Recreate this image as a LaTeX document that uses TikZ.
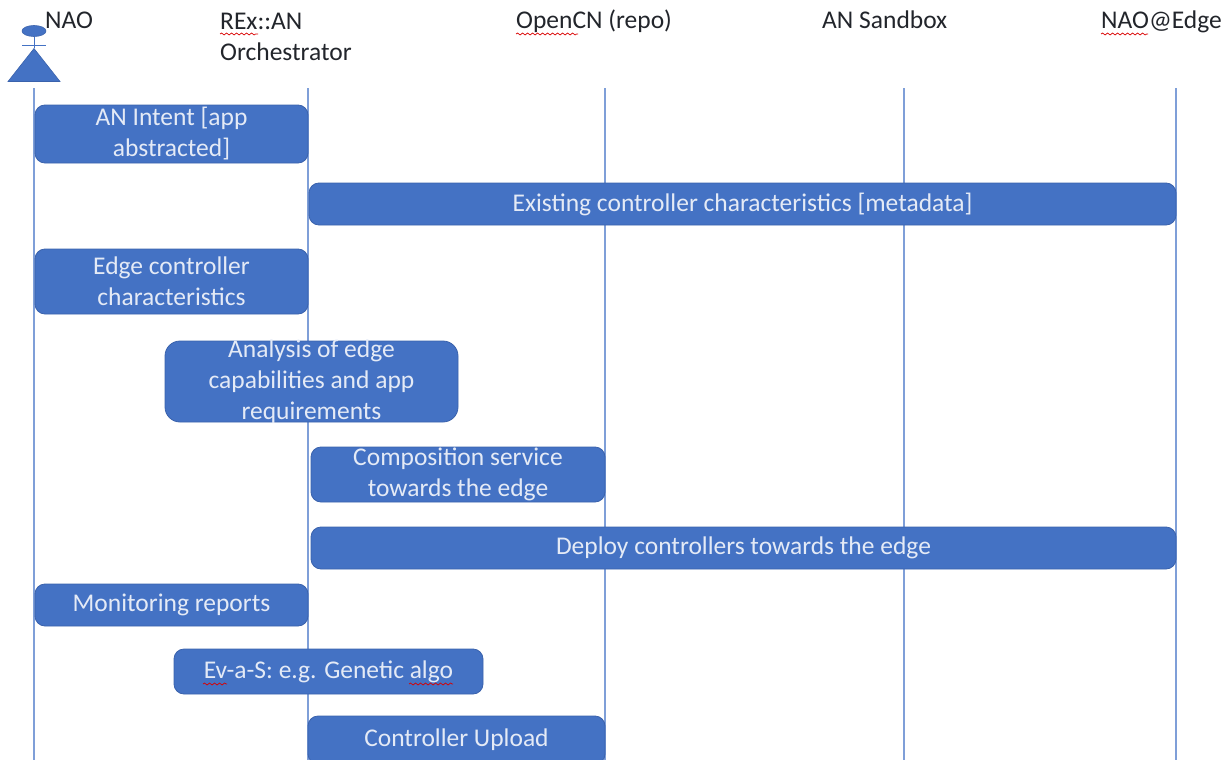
\documentclass[tikz,border=0pt]{standalone}
\usepackage{fontspec}
\setmainfont{Carlito}
\usetikzlibrary{shapes.geometric,decorations.pathmorphing}
\definecolor{barfill}{HTML}{4472C4}
\definecolor{barline}{HTML}{3A62AC}
\definecolor{lifecol}{HTML}{7F9FD8}
\definecolor{txtcol}{HTML}{22252B}
\definecolor{bartxt}{HTML}{E4EAF6}
\tikzset{
  x=1pt,y=-1pt,
  lifeline/.style={draw=lifecol,line width=1.5pt},
  bar/.style={draw=barline,line width=0.8pt,fill=barfill,rounded corners=10pt,text=bartxt,
    align=center,inner sep=0pt,font=\fontsize{25.5}{31}\selectfont},
  head/.style={text=txtcol,anchor=base west,inner sep=0pt,align=left,font=\fontsize{25.5}{32}\selectfont},
  actorpart/.style={draw=barline,fill=barfill,line width=0.6pt},
  actorline/.style={draw=barfill,line width=1pt},
  squiggle/.style={draw=red!85!black,line width=0.7pt,decorate,decoration={snake,amplitude=1pt,segment length=5pt}}
}
\newcommand{\barnode}[7][]{% options, name, x0, x1, y0, y1, text
  \node[bar,minimum width=#4pt-#3pt,minimum height=#6pt-#5pt,#1] (#2) at ({(#3+#4)/2},{(#5+#6)/2}) {#7};}
\begin{document}
\begin{tikzpicture}
\useasboundingbox (0,0) rectangle (1229,760);
% lifeline ends
\foreach \n/\x in {a/34,b/308,c/605,d/904,e/1176}{
  \coordinate (\n top) at (\x,88);
  \coordinate (\n bot) at (\x,760);
  \draw[lifeline] (\n top) -- (\n bot);
}
% actor
\node[actorpart,ellipse,minimum width=24pt,minimum height=11pt,inner sep=0pt] (ahead) at (34,31) {};
\node[actorpart,isosceles triangle,isosceles triangle apex angle=77,shape border rotate=90,
  isosceles triangle stretches,minimum width=52pt,minimum height=33pt,inner sep=0pt,anchor=apex] (abody) at (34,48) {};
\coordinate (armL) at (22,46);
\coordinate (armR) at (46,46);
\draw[actorline] (ahead) -- (abody.apex);
\draw[actorline] (armL) -- (armR);
% headers
\node[head] (h1) at (45,29) {NAO};
\node[head] (h2) at (220,61) {REx::AN\\Orchestrator};
\node[head] (h3) at (516,29) {OpenCN (repo)};
\node[head] (h4) at (822,29) {AN Sandbox};
\node[head] (h5) at (1101,29) {NAO@Edge};
% bars
\barnode{b1}{35}{308}{105}{163}{AN Intent [app\\abstracted]}
\barnode{b2}{309}{1176}{183}{225}{Existing controller characteristics [metadata]}
\barnode{b3}{35}{308}{249}{314}{Edge controller\\characteristics}
\barnode[rounded corners=15pt,inner ysep=-12pt]{b4}{165}{458}{341}{422}{Analysis of edge\\capabilities and app\\requirements}
\barnode{b5}{311}{605}{447}{502}{Composition service\\towards the edge}
\barnode{b6}{311}{1176}{527}{569}{Deploy controllers towards the edge}
\barnode{b7}{35}{308}{584}{626}{Monitoring reports}
\barnode{b8}{174}{483}{649}{694}{Ev-a-S: e.g. Genetic algo}
\begin{scope}
\clip (0,0) rectangle (1229,760);
\barnode{b9}{308}{605}{716}{764}{\raisebox{2pt}{Controller Upload}}
\end{scope}
% spell-check marks
\draw[squiggle] (220,34) -- (258,34);
\draw[squiggle] (516,34) -- (578,34);
\draw[squiggle] (1101,34) -- (1148,34);
\draw[squiggle] (203,684) -- (227,684);
\draw[squiggle] (409,684) -- (453,684);
\end{tikzpicture}
\end{document}
